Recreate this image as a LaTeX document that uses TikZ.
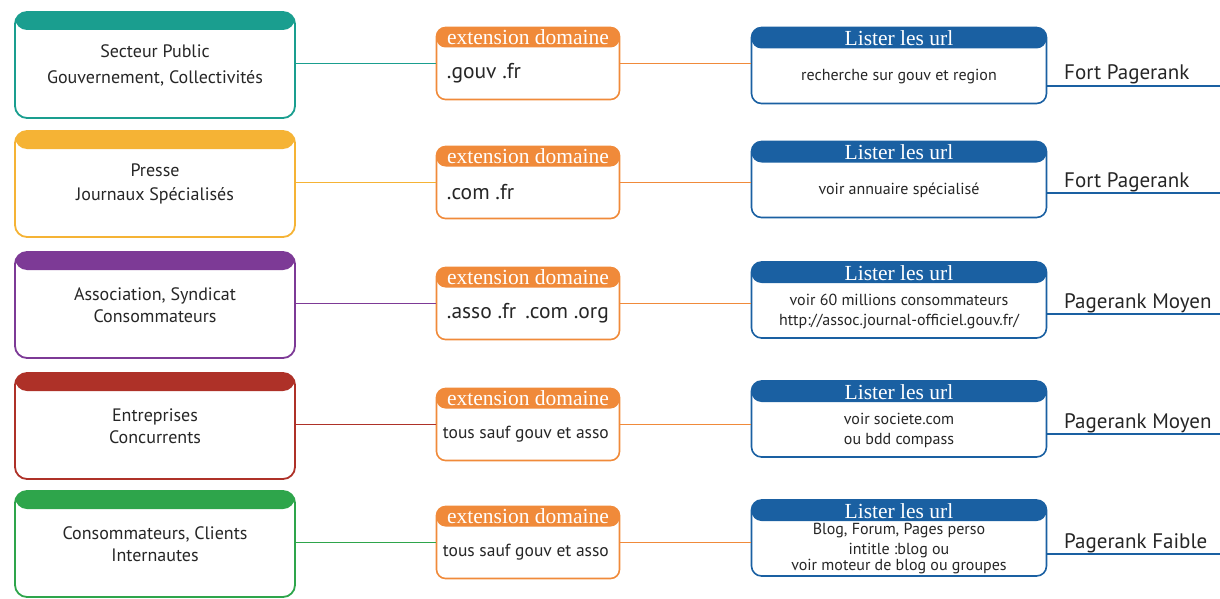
\documentclass[tikz,border=0pt]{standalone}
\usepackage{fontspec}
\setmainfont{PT Sans}
\newfontfamily\pkserif{Liberation Serif}
\usetikzlibrary{positioning,calc}
\definecolor{pkteal}  {HTML}{1A9E8F}
\definecolor{pkyellow}{HTML}{F5B335}
\definecolor{pkpurple}{HTML}{7D3A96}
\definecolor{pkred}   {HTML}{AE3128}
\definecolor{pkgreen} {HTML}{2EA54B}
\definecolor{pkorange}{HTML}{F08A3A}
\definecolor{pkblue}  {HTML}{1A60A2}
\definecolor{pktext}  {HTML}{262626}
\newcommand\pkbig{\hspace*{4pt}\fontsize{21.5}{24}\selectfont}
\tikzset{
  pkcat/.style={draw=#1, fill=white, line width=1.8pt, rounded corners=12pt,
                minimum width=280pt, minimum height=106pt, inner sep=0pt,
                align=center, text=pktext, font=\fontsize{18}{24}\selectfont,
                path picture={\fill[#1] (path picture bounding box.north west)
                  rectangle ([yshift=-18pt]path picture bounding box.north east);}},
  pkext/.style={draw=pkorange, fill=white, line width=1.6pt, rounded corners=9pt,
                minimum width=183pt, minimum height=72pt, inner sep=0pt,
                path picture={\fill[pkorange] (path picture bounding box.north west)
                  rectangle ([yshift=-20pt]path picture bounding box.north east);}},
  pkurl/.style={draw=pkblue, fill=white, line width=1.6pt, rounded corners=10pt,
                minimum width=295pt, minimum height=76pt, inner sep=0pt,
                path picture={\fill[pkblue] (path picture bounding box.north west)
                  rectangle ([yshift=-21pt]path picture bounding box.north east);}},
  pkhead/.style={text=white, font=\pkserif\fontsize{21.5}{22}\selectfont, inner sep=0pt},
  pkexttext/.style={text=pktext, font=\fontsize{17.5}{20}\selectfont, inner sep=0pt},
  pkurltext/.style={text=pktext, align=center, font=\fontsize{16}{20}\selectfont, inner sep=0pt},
  pkrank/.style={text=pktext, font=\fontsize{21}{24}\selectfont, inner sep=0pt},
  pklink/.style={line width=1.5pt},
}
\begin{document}
\begin{tikzpicture}[x=1pt,y=-1pt]
  \useasboundingbox (0,0) rectangle (1220,599);
  \foreach \i/\y/\yr/\yl/\c/\cat/\ext/\url/\rank in {
      1/65/65.5/86/pkteal/{Secteur Public\\[2pt]Gouvernement, Collectivités}/{\pkbig .gouv .fr}/{recherche sur gouv et region}/{Fort Pagerank},
      2/184/179.5/193/pkyellow/{Presse\\Journaux Spécialisés}/{\pkbig .com .fr}/{voir annuaire spécialisé}/{Fort Pagerank},
      3/305/300/314/pkpurple/{Association, Syndicat\\[-2pt]Consommateurs}/{\pkbig .asso .fr\hspace{9pt}.com .org}/{voir 60 millions consommateurs\\http://assoc.journal-officiel.gouv.fr/}/{Pagerank Moyen},
      4/426/419/434/pkred/{Entreprises\\[-2pt]Concurrents}/{tous sauf gouv et asso}/{voir societe.com\\ou bdd compass}/{Pagerank Moyen},
      5/544/538/554/pkgreen/{Consommateurs, Clients\\[-2pt]Internautes}/{tous sauf gouv et asso}/{Blog, Forum, Pages perso\\intitle :blog ou\\[-4pt] voir moteur de blog ou groupes}/{Pagerank Faible}}
  {
    \node[pkcat=\c] (cat\i) at (155,\y) {\cat};
    \node[pkext] (ext\i) at (528,\y-1.5) {};
    \node[pkhead, anchor=base] (exth\i) at ([yshift=-18pt]ext\i.north) {extension domaine};
    \node[pkexttext, anchor=west] (extt\i) at ([xshift=7pt,yshift=-10pt]ext\i.west) {\ext};
    \node[pkurl] (url\i) at (899,\yr) {};
    \node[pkhead, anchor=base] (urlh\i) at ([yshift=-19pt]url\i.north) {Lister les url};
    \node[pkurltext] (urlt\i) at ([yshift=-11pt]url\i.center) {\url};
    \coordinate (rk\i) at (1220,\yl);
    \node[pkrank, anchor=base west] (rank\i) at (1064,\yl-6) {\rank};
    \draw[pklink,\c] (cat\i.east |- ext\i.west) -- (ext\i.west);
    \draw[pklink,pkorange] (ext\i.east) -- (ext\i.east -| url\i.west);
    \draw[pklink,pkblue] (url\i.east |- rk\i) -- (rk\i);
  }
\end{tikzpicture}
\end{document}
